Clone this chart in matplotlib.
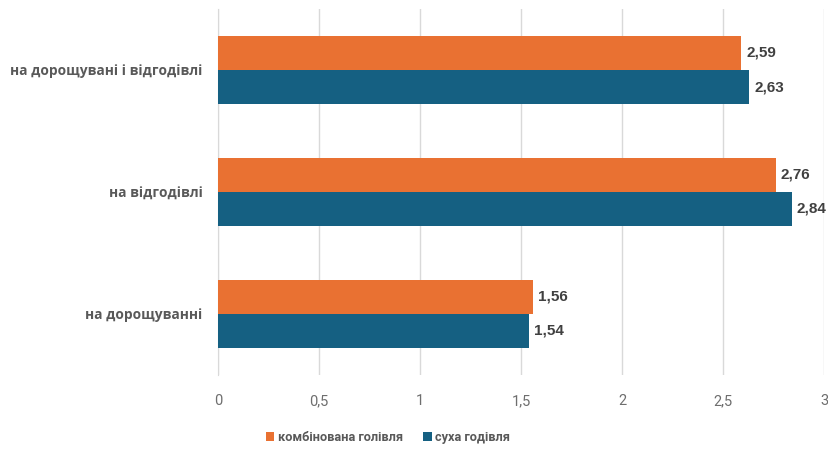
import matplotlib
matplotlib.use("Agg")
import matplotlib.pyplot as plt
import numpy as np

categories = ["на дорощуванні", "на відгодівлі", "на дорощувані і відгодівлі"]
combined = [1.56, 2.76, 2.59]
dry = [1.54, 2.84, 2.63]
series_names = ["комбінована голівля", "суха годівля"]
xticks = [0, 0.5, 1, 1.5, 2, 2.5, 3]
xtick_labels = ["0", "0,5", "1", "1,5", "2", "2,5", "3"]

ORANGE = "#E97132"
BLUE = "#156082"
TEXT = "#595959"

fig = plt.figure(figsize=(8.29, 4.5), dpi=100)
ax = fig.add_axes([0.263, 0.167, 0.731, 0.813])

y = np.arange(len(categories))
h = 0.28
ax.barh(y + h / 2, combined, height=h, color=ORANGE, label=series_names[0], zorder=3)
ax.barh(y - h / 2, dry, height=h, color=BLUE, label=series_names[1], zorder=3)

for yi, v in zip(y + h / 2, combined):
    ax.text(v + 0.025, yi, f"{v:.2f}".replace(".", ","), va="center", ha="left",
            fontsize=11, fontweight="bold", color="#404040", family="Liberation Sans")
for yi, v in zip(y - h / 2, dry):
    ax.text(v + 0.025, yi, f"{v:.2f}".replace(".", ","), va="center", ha="left",
            fontsize=11, fontweight="bold", color="#404040", family="Liberation Sans")

ax.set_xlim(0, 3)
ax.set_ylim(-0.5, 2.5)
ax.set_xticks(xticks)
ax.set_xticklabels(xtick_labels, family=["Liberation Sans Narrow", "Roboto"],
                   fontsize=10.5, color="#6E6E6E")
ax.set_yticks(y)
ax.set_yticklabels(categories, family="Open Sans", fontweight="bold",
                   fontsize=9.9, color=TEXT)
ax.tick_params(axis="both", length=0)
ax.tick_params(axis="x", pad=14)
ax.tick_params(axis="y", pad=11)
ax.grid(axis="x", color="#D9D9D9", linewidth=1, zorder=0)
for s in ["top", "right", "bottom"]:
    ax.spines[s].set_visible(False)
ax.spines["left"].set_color("#D9D9D9")

fig.legend(loc="lower center", bbox_to_anchor=(0.468, -0.012), ncol=2, frameon=False,
           handlelength=0.7, handleheight=0.7, handletextpad=0.3, columnspacing=1.5,
           prop={"family": ["Liberation Sans Narrow", "Roboto"], "weight": "bold", "size": 9.2})
for t in fig.legends[0].get_texts():
    t.set_color(TEXT)

fig.savefig("out.png", dpi=100)
